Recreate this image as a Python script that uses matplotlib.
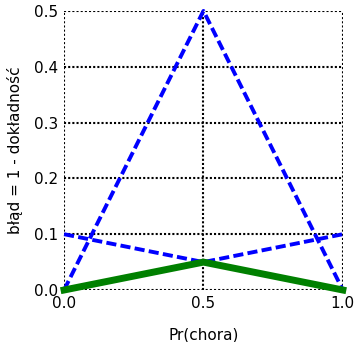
import matplotlib
matplotlib.use("Agg")
import matplotlib.pyplot as plt

x = [0.0, 0.5, 1.0]
triangle = [0.0, 0.5, 0.0]
line_down = [0.1, 0.05, 0.0]
line_up = [0.0, 0.05, 0.1]
green = [0.0, 0.05, 0.0]
xticks = [0.0, 0.5, 1.0]
yticks = [0.0, 0.1, 0.2, 0.3, 0.4, 0.5]

fig = plt.figure(figsize=(3.56, 3.42), dpi=100)
ax = fig.add_axes([0.18, 0.152, 0.783, 0.816])
for ys in (triangle, line_down, line_up):
    ax.plot(x, ys, color='blue', linestyle=(0, (2.6, 1.1)), lw=2.8, clip_on=False)
ax.plot(x, green, color='green', lw=5, clip_on=False, solid_capstyle='projecting')
ax.set_xlim(0, 1)
ax.set_ylim(0, 0.5)
ax.set_xticks(xticks)
ax.set_yticks(yticks)
ax.set_xticklabels([f"{v:.1f}" for v in xticks])
ax.set_yticklabels([f"{v:.1f}" for v in yticks])
for s in ax.spines.values():
    s.set_visible(False)
ax.grid(True, color='black', linestyle=(0, (1, 1)), lw=1.5)
ax.tick_params(length=0, labelsize=11, pad=4)
ax.set_xlabel('Pr(chora)', fontsize=11, labelpad=12)
ax.set_ylabel('błąd = 1 - dokładność', fontsize=11, labelpad=8)
fig.savefig('out.png', dpi=100)
